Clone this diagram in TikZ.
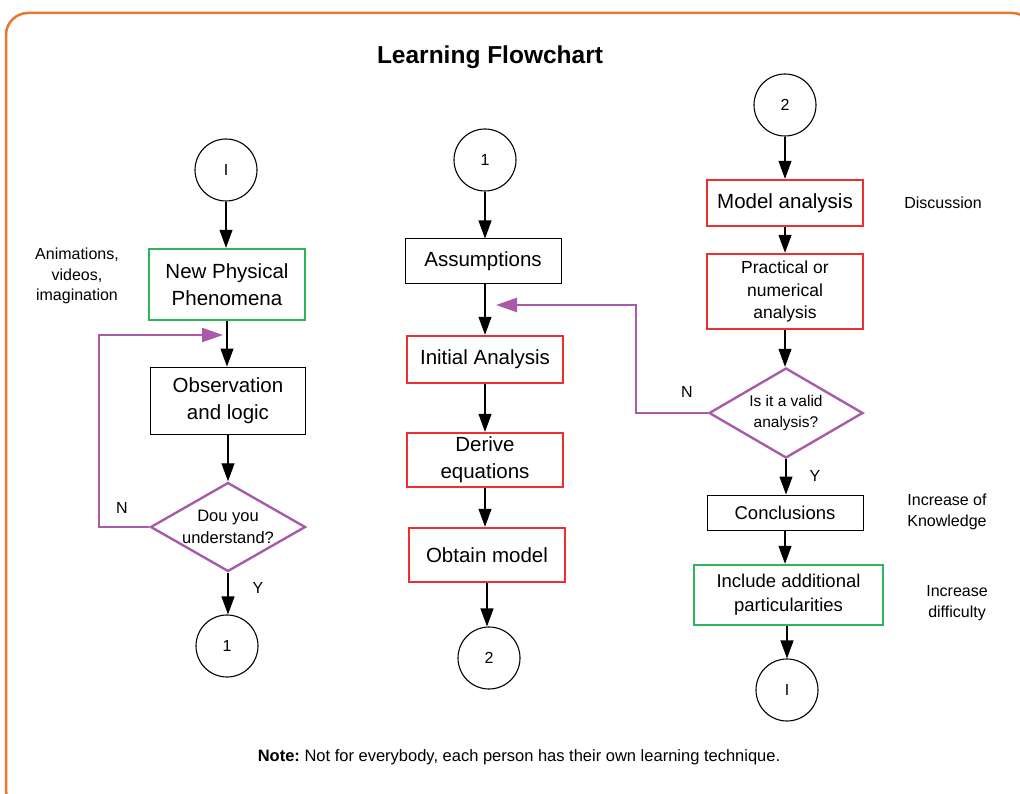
\documentclass[tikz,border=0pt]{standalone}
\usepackage{fontspec}
\setmainfont{Liberation Sans}
\usetikzlibrary{shapes.geometric,arrows.meta}

\definecolor{frameorange}{HTML}{E5792F}
\definecolor{flowred}{HTML}{EC3030}
\definecolor{flowgreen}{HTML}{2DB55D}
\definecolor{flowpurple}{HTML}{A95AA8}

\newcommand{\fs}[1]{\fontsize{#1}{1.3\dimexpr #1pt\relax}\selectfont}
\frenchspacing

\begin{document}
\begin{tikzpicture}[x=1pt,y=-1pt,
  connector/.style={draw, circle, minimum size=62pt, inner sep=0pt, line width=1.1pt, font=\fs{16}},
  stepbox/.style={draw, rectangle, inner sep=0pt, line width=1pt, align=center, font=\fs{20.5}},
  redbox/.style={stepbox, draw=flowred, line width=2.4pt},
  greenbox/.style={stepbox, draw=flowgreen, line width=2.4pt},
  decision/.style={diamond, draw=flowpurple, line width=2.4pt, inner sep=0pt, aspect=1.7, align=center},
  flow/.style={draw=black, line width=1.1pt, -{Triangle[length=18pt,width=13pt]}},
  retry/.style={draw=flowpurple, line width=2.4pt, -{Triangle[length=21pt,width=14pt]}},
  note/.style={align=center, font=\fs{16}, inner sep=0pt},
  yn/.style={font=\fs{16}, inner sep=0pt}]
\useasboundingbox (0,0) rectangle (1020,794);

% outer frame
\begin{scope}
  \clip (0,0) rectangle (1020,794);
  \draw[frameorange, line width=2.5pt, rounded corners=22pt] (6,13) rectangle (1034,812);
\end{scope}

% title
\node[font=\bfseries\fs{24.5}] (title) at (490,57) {Learning Flowchart};

% ---- first column
\node[connector] (cI) at (226,170) {I};
\node[greenbox, minimum width=156pt, minimum height=71pt] (phen) at (227,284.5) {New Physical\\Phenomena};
\node[stepbox, minimum width=155pt, minimum height=67pt] (obs) at (228,400.5) {Observation\\and logic};
\node[decision, minimum width=155pt, minimum height=89pt, font=\fs{16.5}] (und) at (228,527) {Dou you\\understand?};
\node[connector] (c1a) at (227,646) {1};
\node[note, text width=110pt] (anim) at (77,276) {Animations,\\videos,\\imagination};

\draw[flow] (cI.south) -- (cI.south |- phen.north);
\draw[flow] (phen.south) -- (phen.south |- obs.north);
\draw[flow] (obs.south) -- (und.north);
\draw[flow] (und.south) -- (und.south |- c1a.north);
\node[yn] (y1) at (258,588) {Y};
\node[yn] (n1) at (122,508) {N};
\coordinate (bendA) at (99,335);
\coordinate (tipA) at (223,335);
\draw[retry] (und.west) -| (bendA) -- (tipA);

% ---- second column
\node[connector] (c1b) at (485,160) {1};
\node[stepbox, minimum width=156pt, minimum height=45pt] (ass) at (483,261.5) {Assumptions};
\node[redbox, minimum width=156pt, minimum height=47pt] (init) at (485,359.5) {Initial Analysis};
\node[redbox, minimum width=156pt, minimum height=54pt] (der) at (485,460) {Derive\\equations};
\node[redbox, minimum width=156pt, minimum height=54pt] (obt) at (487,555) {Obtain model};
\node[connector] (c2a) at (489,658) {2};

\draw[flow] (c1b.south) -- (c1b.south |- ass.north);
\draw[flow] (ass.south -| init.north) -- (init.north);
\draw[flow] (init.south) -- (der.north);
\draw[flow] (der.south) -- (der.south |- obt.north);
\draw[flow] (obt.south) -- (obt.south |- c2a.north);

% ---- third column
\node[connector] (c2b) at (785,105) {2};
\node[redbox, minimum width=156pt, minimum height=46pt] (model) at (785,203) {Model analysis};
\node[redbox, minimum width=156pt, minimum height=75pt, font=\fs{17.5}] (prac) at (785,291.5) {Practical or\\numerical\\analysis};
\node[decision, minimum width=154pt, minimum height=90pt, font=\fs{15.5}] (valid) at (786,413) {Is it a valid\\analysis?};
\node[stepbox, minimum width=156pt, minimum height=35pt, font=\fs{18.5}] (concl) at (785,512.5) {Conclusions};
\node[greenbox, minimum width=189pt, minimum height=60pt, font=\fs{18.5}] (incl) at (788.5,595) {Include additional\\particularities};
\node[connector] (cIb) at (787,690) {I};

\draw[flow] (c2b.south) -- (c2b.south |- model.north);
\draw[flow] (model.south) -- (prac.north);
\draw[flow] (prac.south) -- (prac.south |- valid.north);
\draw[flow] (valid.south) -- (valid.south |- concl.north);
\draw[flow] (concl.south) -- (concl.south |- incl.north);
\draw[flow] (incl.south -| cIb.north) -- (cIb.north);
\node[yn] (y2) at (815,476) {Y};
\node[yn] (n2) at (687,392) {N};
\coordinate (bendB) at (636,305);
\coordinate (tipB) at (496,305);
\draw[retry] (valid.west) -| (bendB) -- (tipB);

\node[note] (disc) at (943,203) {Discussion};
\node[note] (know) at (947,512) {Increase of\\Knowledge};
\node[note] (diff) at (957,603) {Increase\\difficulty};

% footnote
\node[font=\fs{16.5}, inner sep=0pt] (foot) at (519,757) {\textbf{Note:} Not for everybody, each person has their own learning technique.};
\end{tikzpicture}
\end{document}
